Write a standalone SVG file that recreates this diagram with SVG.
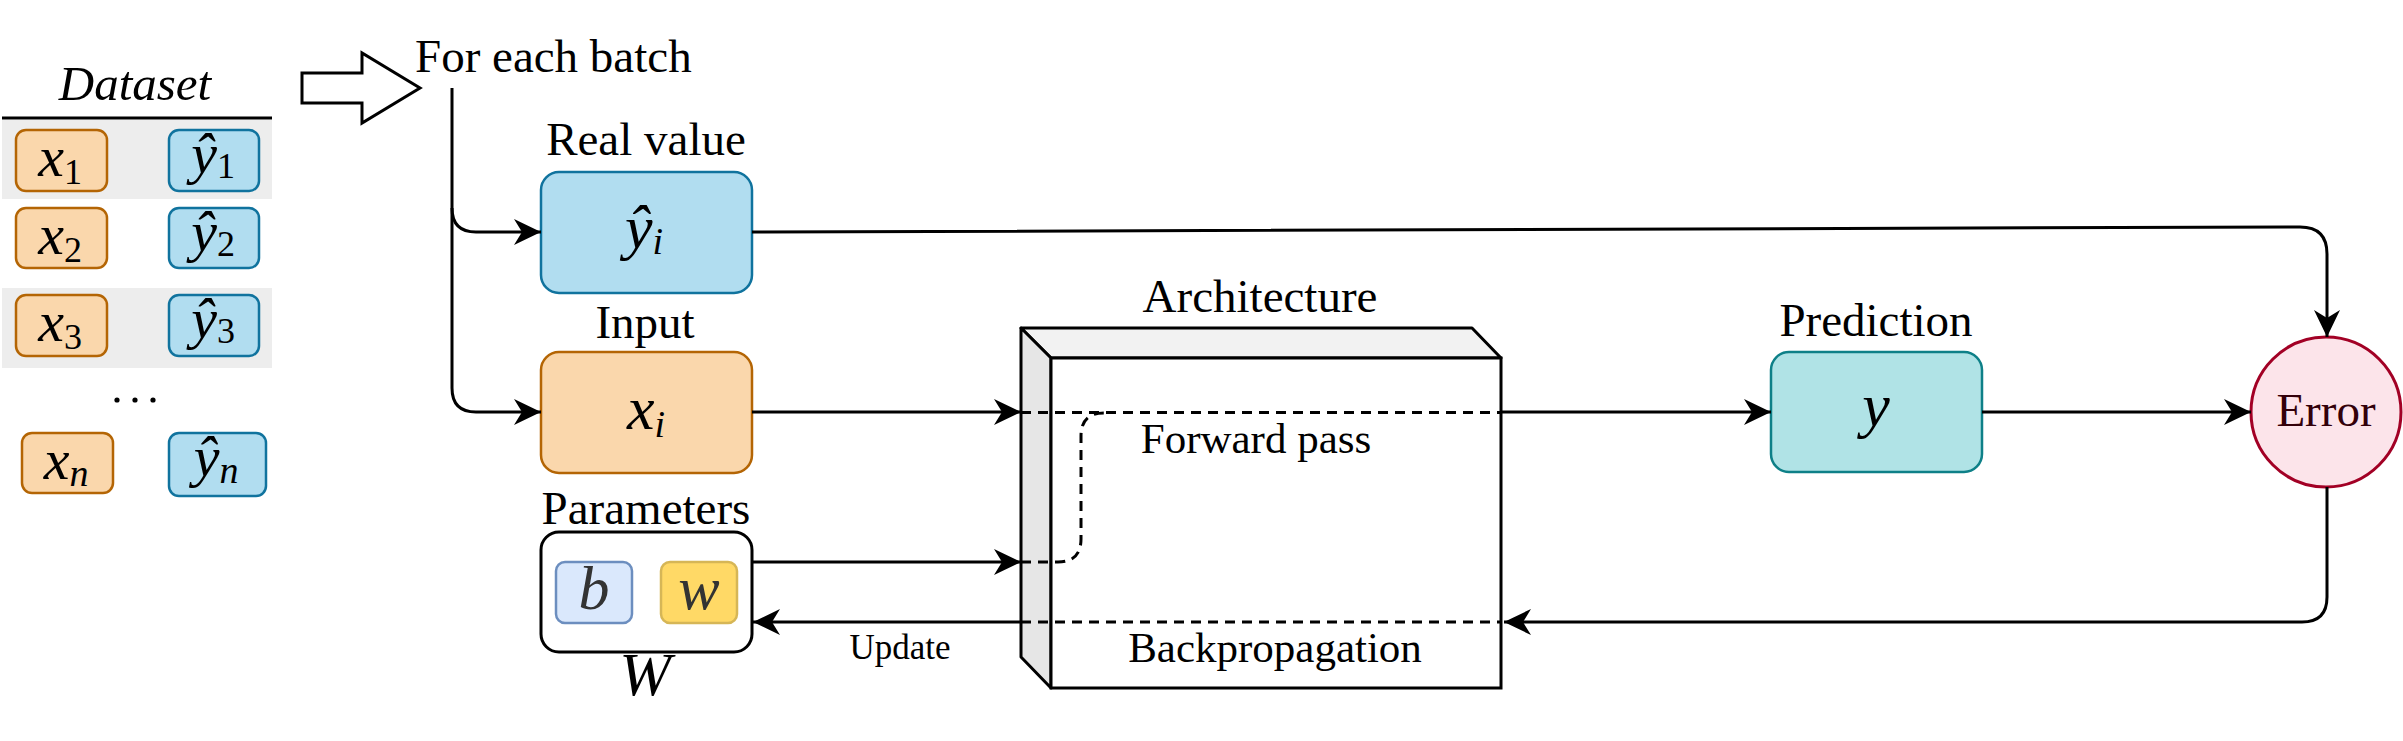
<svg xmlns="http://www.w3.org/2000/svg" width="2403" height="741" viewBox="0 0 2403 741">
<style>
text{font-family:"Liberation Serif","Times New Roman",serif;fill:#000}
.lbl{font-size:47px;text-anchor:middle}
.math{font-size:62px;text-anchor:middle;font-style:italic}
.dmath{font-size:58px;text-anchor:middle;font-style:italic}
.sub{font-size:36px;font-style:normal}
.subi{font-size:38px;font-style:italic}
.xbox{fill:#fad7ac;stroke:#b46504;stroke-width:2.5}
.ybox{fill:#b1ddf0;stroke:#10739e;stroke-width:2.5}
.ln{fill:none;stroke:#000;stroke-width:3}
.arw{marker-end:url(#arr)}
.dash{fill:none;stroke:#000;stroke-width:3;stroke-dasharray:10 7}
</style>
<defs>
<marker id="arr" viewBox="-28 -14 30 28" refX="0" refY="0" markerWidth="30" markerHeight="28" markerUnits="userSpaceOnUse" orient="auto">
<path d="M0,0 L-27,-13 L-19,0 L-27,13 Z" fill="#000"/>
</marker>
</defs>
<rect width="2403" height="741" fill="#fff"/>

<g id="dataset">
<rect x="2" y="120" width="270" height="79" fill="#ededed"/>
<rect x="2" y="288" width="270" height="80" fill="#ededed"/>
<text x="135" y="100" font-size="49" font-style="italic" text-anchor="middle">Dataset</text>
<line x1="2" y1="118" x2="272" y2="118" stroke="#000" stroke-width="3"/>
<rect class="xbox" x="16" y="130" width="91" height="61" rx="10"/>
<text class="dmath" x="60" y="176">x<tspan class="sub" dy="8">1</tspan></text>
<rect class="ybox" x="169" y="130" width="90" height="61" rx="10"/>
<text class="dmath" x="213" y="173">ŷ<tspan class="sub" dy="5">1</tspan></text>
<rect class="xbox" x="16" y="208" width="91" height="60" rx="10"/>
<text class="dmath" x="60" y="254">x<tspan class="sub" dy="8">2</tspan></text>
<rect class="ybox" x="169" y="208" width="90" height="60" rx="10"/>
<text class="dmath" x="213" y="251">ŷ<tspan class="sub" dy="5">2</tspan></text>
<rect class="xbox" x="16" y="295" width="91" height="61" rx="10"/>
<text class="dmath" x="60" y="341">x<tspan class="sub" dy="8">3</tspan></text>
<rect class="ybox" x="169" y="295" width="90" height="61" rx="10"/>
<text class="dmath" x="213" y="338">ŷ<tspan class="sub" dy="5">3</tspan></text>
<circle cx="117" cy="400" r="2.6"/>
<circle cx="135" cy="400" r="2.6"/>
<circle cx="153" cy="400" r="2.6"/>
<rect class="xbox" x="22" y="433" width="91" height="60" rx="10"/>
<text class="dmath" x="66" y="479">x<tspan class="subi" dy="7">n</tspan></text>
<rect class="ybox" x="169" y="433" width="97" height="63" rx="10"/>
<text class="dmath" x="216" y="476">ŷ<tspan class="subi" dy="7">n</tspan></text>
</g>

<g id="batch-arrow">
<path d="M302,73 H362 V53 L420,88 L362,123 V103 H302 Z" fill="#fff" stroke="#000" stroke-width="3" stroke-linejoin="miter"/>
<text x="415" y="72" font-size="47">For each batch</text>
</g>

<g id="real-value">
<text class="lbl" x="646" y="155">Real value</text>
<rect class="ybox" x="541" y="172" width="211" height="121" rx="18"/>
<text class="math" x="644" y="248">ŷ<tspan class="subi" dy="6">i</tspan></text>
</g>

<g id="input">
<text class="lbl" x="645" y="338">Input</text>
<rect class="xbox" x="541" y="352" width="211" height="121" rx="18"/>
<text class="math" x="646" y="429">x<tspan class="subi" dy="8">i</tspan></text>
</g>

<g id="parameters">
<text class="lbl" x="646" y="524" font-size="48">Parameters</text>
<rect x="541" y="532" width="211" height="120" rx="18" fill="#fff" stroke="#000" stroke-width="3"/>
<rect x="556" y="562" width="76" height="61" rx="9" fill="#dae8fc" stroke="#6c8ebf" stroke-width="2.5"/>
<text class="math" x="594" y="609" style="fill:#333" font-size="64">b</text>
<rect x="661" y="562" width="76" height="61" rx="9" fill="#ffd966" stroke="#d6b656" stroke-width="2.5"/>
<text class="math" x="699" y="609" style="fill:#333" font-size="64">w</text>
<text class="math" x="645" y="695" font-size="48">W</text>
</g>

<g id="architecture">
<text class="lbl" x="1260" y="312">Architecture</text>
<polygon points="1021,328 1472,328 1501,358 1051,358" fill="#f2f2f2" stroke="#000" stroke-width="3" stroke-linejoin="round"/>
<polygon points="1021,328 1051,358 1051,688 1021,657" fill="#e6e6e6" stroke="#000" stroke-width="3" stroke-linejoin="round"/>
<rect x="1051" y="358" width="450" height="330" fill="#fff" stroke="#000" stroke-width="3"/>
<text x="1256" y="453" font-size="43" text-anchor="middle">Forward pass</text>
<text x="1275" y="662" font-size="43" text-anchor="middle">Backpropagation</text>
</g>

<g id="prediction">
<text class="lbl" x="1876" y="336">Prediction</text>
<rect x="1771" y="352" width="211" height="120" rx="18" fill="#b0e3e6" stroke="#0e8088" stroke-width="2.5"/>
<text class="math" x="1876" y="426">y</text>
</g>

<g id="error">
<circle cx="2326" cy="412" r="75" fill="#fce4ea" stroke="#a20025" stroke-width="3"/>
<text class="lbl" x="2326" y="426" style="fill:#33000a">Error</text>
</g>

<g id="connectors">
<path class="ln arw" d="M452,88 V388 Q452,412 476,412 H541"/>
<path class="ln arw" d="M452,208 Q452,232 476,232 H541"/>
<path class="ln arw" d="M752,232 L2300,227 Q2327,227 2327,254 V337"/>
<path class="ln arw" d="M752,412 H1021"/>
<path class="ln arw" d="M752,562 H1021"/>
<path class="ln arw" d="M1021,622 H753"/>
<path class="dash" d="M1021,412.5 H1501"/>
<path class="dash" d="M1021,562 H1058 Q1081,562 1081,539 V436 Q1081,413 1104,413"/>
<path class="dash" d="M1021,622 H1501"/>
<path class="ln arw" d="M1501,412 H1771"/>
<path class="ln arw" d="M1982,412 H2251"/>
<path class="ln arw" d="M2327,487 V597 Q2327,622 2302,622 H1504"/>
<text x="900" y="659" font-size="35" text-anchor="middle">Update</text>
</g>
</svg>
